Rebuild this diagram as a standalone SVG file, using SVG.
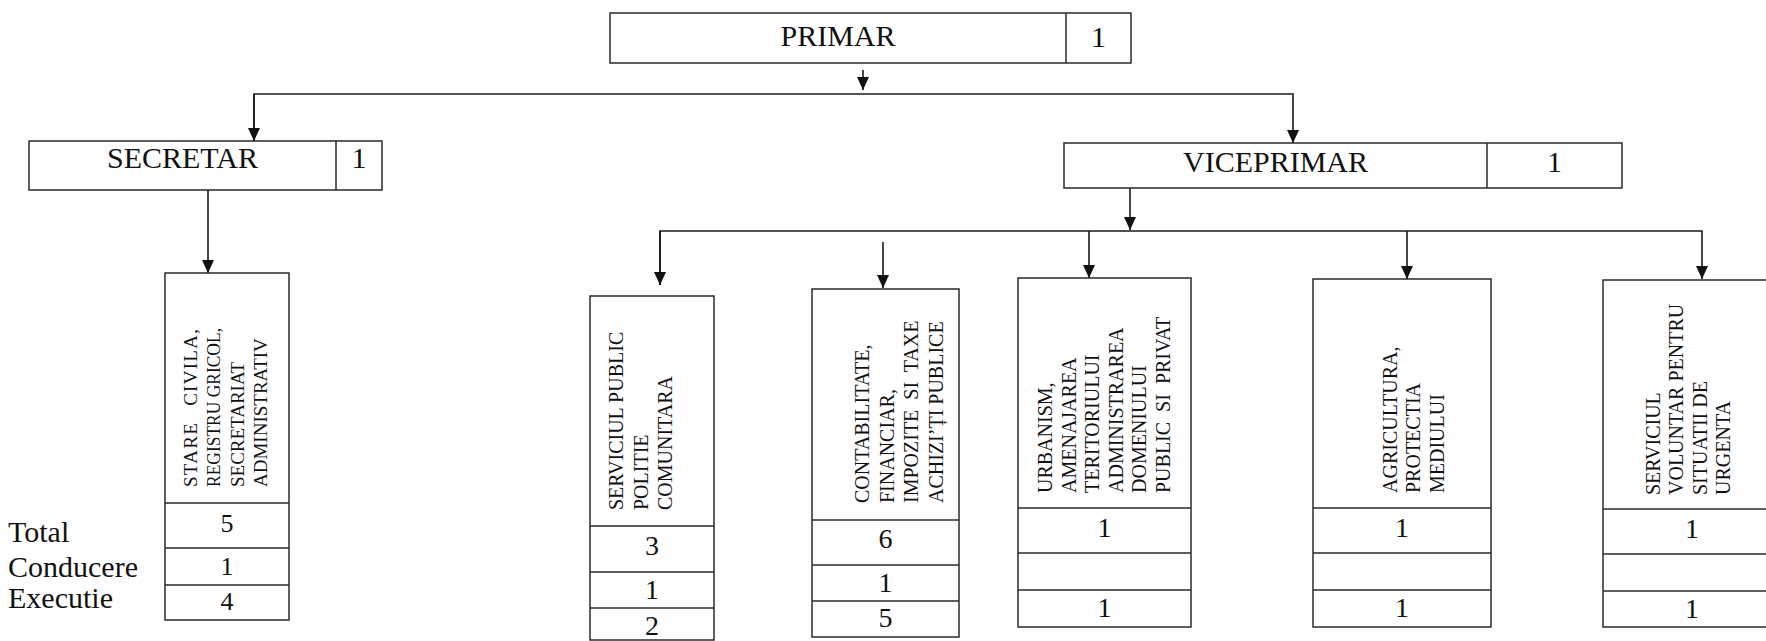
<svg xmlns="http://www.w3.org/2000/svg" width="1766" height="641" viewBox="0 0 1766 641">
<style>
  .box{fill:#fff;stroke:#2a2a2a;stroke-width:1.5}
  .div{stroke:#2a2a2a;stroke-width:1.5;fill:none}
  .conn{stroke:#1a1a1a;stroke-width:1.6;fill:none}
  .big{font-family:"Liberation Serif","Times New Roman",serif;font-size:30px;fill:#111;text-anchor:middle}
  .num{font-family:"Liberation Serif","Times New Roman",serif;font-size:28px;fill:#111;text-anchor:middle}
  .nums{font-family:"Liberation Serif","Times New Roman",serif;font-size:26px;fill:#111;text-anchor:middle}
  .vt{font-family:"Liberation Serif","Times New Roman",serif;font-size:20px;fill:#111}
  .lbl{font-family:"Liberation Serif","Times New Roman",serif;font-size:30px;fill:#111}
</style>
<defs>
  <marker id="ah" viewBox="0 0 13 12" refX="13" refY="6" markerWidth="13" markerHeight="12" markerUnits="userSpaceOnUse" orient="auto">
    <path d="M0,0 L13,6 L0,12 z" fill="#111"/>
  </marker>
</defs>
<rect width="1766" height="641" fill="#fff"/>

<g id="connectors">
  <line class="conn" x1="863" y1="70" x2="863" y2="90" marker-end="url(#ah)"/>
  <polyline class="conn" points="254,141 254,94 1293,94 1293,143" marker-end="url(#ah)"/>
  <line class="conn" x1="254" y1="94" x2="254" y2="141" marker-end="url(#ah)"/>
  <line class="conn" x1="208" y1="190" x2="208" y2="273" marker-end="url(#ah)"/>
  <line class="conn" x1="1130" y1="188" x2="1130" y2="230" marker-end="url(#ah)"/>
  <polyline class="conn" points="660,285 660,231 1702,231 1702,279" marker-end="url(#ah)"/>
  <line class="conn" x1="660" y1="231" x2="660" y2="285" marker-end="url(#ah)"/>
  <line class="conn" x1="883" y1="242" x2="883" y2="288" marker-end="url(#ah)"/>
  <line class="conn" x1="1089" y1="231" x2="1089" y2="278" marker-end="url(#ah)"/>
  <line class="conn" x1="1407" y1="231" x2="1407" y2="279" marker-end="url(#ah)"/>
</g>

<g id="primar">
  <rect class="box" x="610" y="13" width="521" height="50"/>
  <line class="div" x1="1066" y1="13" x2="1066" y2="63"/>
  <text class="big" x="838" y="46">PRIMAR</text>
  <text class="big" x="1098.5" y="47">1</text>
</g>

<g id="secretar">
  <rect class="box" x="29" y="141" width="353" height="49"/>
  <line class="div" x1="336" y1="141" x2="336" y2="190"/>
  <text class="big" x="182.5" y="168">SECRETAR</text>
  <text class="big" x="359" y="168">1</text>
</g>

<g id="viceprimar">
  <rect class="box" x="1064" y="143" width="558" height="45"/>
  <line class="div" x1="1487" y1="143" x2="1487" y2="188"/>
  <text class="big" x="1275.5" y="172">VICEPRIMAR</text>
  <text class="big" x="1554.5" y="172">1</text>
</g>

<g id="legend">
  <text class="lbl" x="8" y="542">Total</text>
  <text class="lbl" x="8" y="577">Conducere</text>
  <text class="lbl" x="8" y="608">Executie</text>
</g>

<g id="stare-civila">
  <rect class="box" x="165" y="273" width="124" height="347"/>
  <line class="div" x1="165" y1="503" x2="289" y2="503"/>
  <line class="div" x1="165" y1="548" x2="289" y2="548"/>
  <line class="div" x1="165" y1="585" x2="289" y2="585"/>
  <text class="vt" style="font-size:19px" transform="translate(197,487) rotate(-90)">
    <tspan x="0" y="0" word-spacing="10" textLength="158" lengthAdjust="spacing">STARE CIVILA,</tspan>
    <tspan x="0" y="23.3" textLength="159" lengthAdjust="spacingAndGlyphs">REGISTRU GRICOL,</tspan>
    <tspan x="0" y="46.6">SECRETARIAT</tspan>
    <tspan x="0" y="70">ADMINISTRATIV</tspan>
  </text>
  <text class="nums" x="227" y="532">5</text>
  <text class="nums" x="227" y="575">1</text>
  <text class="nums" x="227" y="610">4</text>
</g>

<g id="politie">
  <rect class="box" x="590" y="296" width="124" height="344"/>
  <line class="div" x1="590" y1="526" x2="714" y2="526"/>
  <line class="div" x1="590" y1="572" x2="714" y2="572"/>
  <line class="div" x1="590" y1="608" x2="714" y2="608"/>
  <text class="vt" transform="translate(623,510) rotate(-90)">
    <tspan x="0" y="0">SERVICIUL PUBLIC</tspan>
    <tspan x="0" y="24.5">POLITIE</tspan>
    <tspan x="0" y="49">COMUNITARA</tspan>
  </text>
  <text class="num" x="652" y="555">3</text>
  <text class="num" x="652" y="599">1</text>
  <text class="num" x="652" y="635">2</text>
</g>

<g id="contabilitate">
  <rect class="box" x="812" y="289" width="147" height="348"/>
  <line class="div" x1="812" y1="520" x2="959" y2="520"/>
  <line class="div" x1="812" y1="565" x2="959" y2="565"/>
  <line class="div" x1="812" y1="601" x2="959" y2="601"/>
  <text class="vt" transform="translate(869,503) rotate(-90)">
    <tspan x="0" y="0">CONTABILITATE,</tspan>
    <tspan x="0" y="24.5">FINANCIAR,</tspan>
    <tspan x="0" y="49" word-spacing="5">IMPOZITE SI TAXE</tspan>
    <tspan x="0" y="73.5">ACHIZI’ȚI PUBLICE</tspan>
  </text>
  <text class="num" x="885.5" y="548">6</text>
  <text class="num" x="885.5" y="592">1</text>
  <text class="num" x="885.5" y="627">5</text>
</g>

<g id="urbanism">
  <rect class="box" x="1018" y="278" width="173" height="349"/>
  <line class="div" x1="1018" y1="508" x2="1191" y2="508"/>
  <line class="div" x1="1018" y1="553" x2="1191" y2="553"/>
  <line class="div" x1="1018" y1="590" x2="1191" y2="590"/>
  <text class="vt" transform="translate(1052,493) rotate(-90)">
    <tspan x="0" y="0">URBANISM,</tspan>
    <tspan x="0" y="23.6">AMENAJAREA</tspan>
    <tspan x="0" y="47.2">TERITORIULUI</tspan>
    <tspan x="0" y="70.8">ADMINISTRAREA</tspan>
    <tspan x="0" y="94.4">DOMENIULUI</tspan>
    <tspan x="0" y="118" word-spacing="5">PUBLIC SI PRIVAT</tspan>
  </text>
  <text class="num" x="1104.5" y="537">1</text>
  <text class="num" x="1104.5" y="617">1</text>
</g>

<g id="agricultura">
  <rect class="box" x="1313" y="279" width="178" height="348"/>
  <line class="div" x1="1313" y1="508" x2="1491" y2="508"/>
  <line class="div" x1="1313" y1="553" x2="1491" y2="553"/>
  <line class="div" x1="1313" y1="590" x2="1491" y2="590"/>
  <text class="vt" transform="translate(1397,493) rotate(-90)">
    <tspan x="0" y="0">AGRICULTURA,</tspan>
    <tspan x="0" y="23.3">PROTECTIA</tspan>
    <tspan x="0" y="46.6">MEDIULUI</tspan>
  </text>
  <text class="num" x="1402" y="537">1</text>
  <text class="num" x="1402" y="617">1</text>
</g>

<g id="situatii-urgenta">
  <rect class="box" x="1603" y="280" width="178" height="347"/>
  <line class="div" x1="1603" y1="509" x2="1781" y2="509"/>
  <line class="div" x1="1603" y1="554" x2="1781" y2="554"/>
  <line class="div" x1="1603" y1="591" x2="1781" y2="591"/>
  <text class="vt" transform="translate(1660,495) rotate(-90)">
    <tspan x="0" y="0">SERVICIUL</tspan>
    <tspan x="0" y="23.3">VOLUNTAR PENTRU</tspan>
    <tspan x="0" y="46.6">SITUATII DE</tspan>
    <tspan x="0" y="70">URGENTA</tspan>
  </text>
  <text class="num" x="1692" y="538">1</text>
  <text class="num" x="1692" y="618">1</text>
</g>
</svg>
